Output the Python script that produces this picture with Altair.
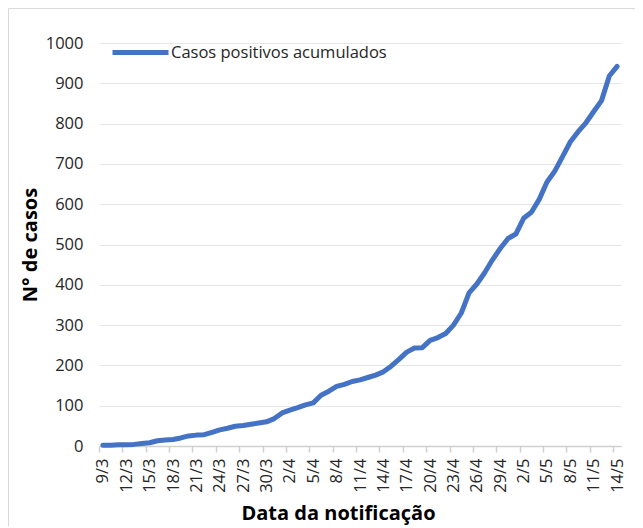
import altair as alt
import pandas as pd

# Categories: daily notification dates 9/3 .. 14/5
dates = [f"{d.day}/{d.month}" for d in pd.date_range("2020-03-09", "2020-05-14")]

# Cumulative positive cases
cases = [2, 2, 3, 3, 4, 6, 8, 13, 15, 16, 20, 25, 27, 28, 34, 40, 44, 49, 51, 54,
         57, 60, 68, 82, 89, 95, 102, 107, 126, 136, 148, 153, 160, 164, 170, 176,
         184, 198, 215, 233, 243, 244, 262, 269, 279, 300, 330, 380, 402, 430, 462,
         490, 515, 526, 565, 580, 612, 655, 682, 718, 755, 780, 802, 830, 857, 918,
         942]

series_name = "Casos positivos acumulados"
y_ticks = list(range(0, 1001, 100))
x_tick_vals = [i - 0.5 for i in range(0, len(dates), 3)]

df = pd.DataFrame({"idx": list(range(len(dates))), "date": dates, "cases": cases,
                   "series": series_name})

FONT = "Open Sans"
TXT = "#262626"
W, H = 522, 403
n = len(dates)
step = W / n

label_expr = "[" + ",".join(f"'{d}'" for d in dates) + "][round(datum.value + 0.5)]"

line = alt.Chart(df).mark_line(strokeWidth=5, strokeCap="round", strokeJoin="round").encode(
    x=alt.X("idx:Q",
            scale=alt.Scale(domain=[-0.5, n - 0.5], nice=False, zero=False),
            axis=alt.Axis(values=x_tick_vals, labelExpr=label_expr,
                          labelOffset=step / 2, labelAngle=-90,
                          labelFontSize=16.5, labelFont=FONT, labelColor=TXT,
                          labelPadding=6, labelOverlap=False, labelBound=False,
                          domainColor="#d0d0d0", domainWidth=1.5,
                          tickColor="#d0d0d0", tickWidth=1.5, tickSize=6,
                          grid=False,
                          title="Data da notificação", titleFont=FONT,
                          titleFontSize=20, titleFontWeight="bold", titleColor="#000000",
                          titleX=239, titleY=67, titleBaseline="middle",
                          titleAlign="center")),
    y=alt.Y("cases:Q",
            scale=alt.Scale(domain=[0, 1000], nice=False),
            axis=alt.Axis(values=y_ticks, format="d", domain=False, ticks=False,
                          grid=True, gridColor="#e6e6e6", gridWidth=1.2,
                          labelFontSize=16.5, labelFont=FONT, labelColor=TXT,
                          labelPadding=16,
                          title="N° de casos", titleFont=FONT, titleFontSize=20,
                          titleFontWeight="bold", titleColor="#000000",
                          titleX=-69, titleY=H / 2, titleBaseline="middle",
                          titleAlign="center", titleAngle=-90)),
    color=alt.Color("series:N", scale=alt.Scale(range=["#4472C4"]),
                    legend=alt.Legend(title=None, orient="none", legendX=11, legendY=-21,
                                      symbolType="stroke", symbolSize=56 * 56,
                                      symbolStrokeWidth=5, labelFont=FONT,
                                      labelFontSize=16.5, labelColor=TXT, labelLimit=0,
                                      labelOffset=0, padding=0, offset=0)),
)

frame = alt.Chart(pd.DataFrame({"a": [0]})).mark_rect(
    filled=False, stroke="#d9d9d9", strokeWidth=1).encode(
    x=alt.value(-90.5), x2=alt.value(800), y=alt.value(-34.5), y2=alt.value(800))

chart = alt.layer(frame, line).properties(
    width=W, height=H,
    autosize="none",
    padding={"left": 91, "top": 35, "right": 14, "bottom": 80},
    background="white",
).configure_view(stroke=None)

chart.save("out.html", embed_options={"renderer": "svg", "actions": False})
